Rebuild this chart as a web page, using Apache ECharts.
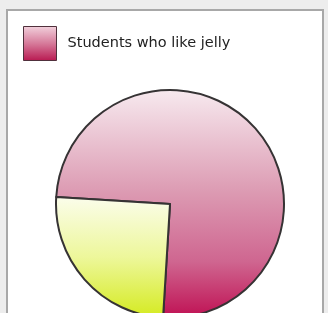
<!DOCTYPE html>
<html><head><meta charset="utf-8">
<script src="https://cdn.jsdelivr.net/npm/echarts@6/dist/echarts.min.js"></script>
<style>html,body{margin:0;padding:0;background:#ededed;}#c{width:328px;height:313px;}</style>
</head><body><div id="c"></div>
<script>
var categories = ['Students who like jelly', "Students who don't like jelly"];
var values = [75, 25];
var legendNames = ['Students who like jelly'];

var pinkGrad = new echarts.graphic.LinearGradient(0, 0, 0, 1, [
  {offset: 0, color: '#f7eaef'},
  {offset: 0.45, color: '#dc9ab2'},
  {offset: 0.75, color: '#cf6690'},
  {offset: 1, color: '#bf0f52'}
]);
var yellowGrad = new echarts.graphic.LinearGradient(0, 0, 0, 1, [
  {offset: 0, color: '#fbfdec'},
  {offset: 0.5, color: '#edf79a'},
  {offset: 1, color: '#d4ea1e'}
]);
var swatchGrad = new echarts.graphic.LinearGradient(0, 0, 0, 1, [
  {offset: 0, color: '#f2d2dd'},
  {offset: 0.5, color: '#d67a9a'},
  {offset: 1, color: '#b81850'}
]);
var colors = [pinkGrad, yellowGrad];

var chart = echarts.init(document.getElementById('c'), null, {renderer: 'canvas'});
chart.setOption({
  backgroundColor: '#ededed',
  animation: false,
  graphic: [{
    type: 'rect', z: -1,
    shape: {x: 7, y: 10, width: 316, height: 310},
    style: {fill: '#ffffff', stroke: '#a8a8a8', lineWidth: 2}
  }],
  legend: {
    data: legendNames.map(function (n) { return {name: n, itemStyle: {color: swatchGrad}}; }),
    left: 23, top: 26, padding: 0,
    itemWidth: 33, itemHeight: 34,
    icon: 'rect',
    itemStyle: {borderColor: '#50303c', borderWidth: 1},
    textStyle: {fontFamily: 'DejaVu Sans', fontSize: 14.5, color: '#222', padding: [0, 0, 0, 6]},
    selectedMode: false
  },
  series: [{
    type: 'pie',
    center: [170, 204],
    radius: 114,
    startAngle: 176.5,
    clockwise: true,
    label: {show: false},
    labelLine: {show: false},
    silent: true,
    itemStyle: {borderColor: '#363334', borderWidth: 2},
    data: categories.map(function (c, i) {
      return {name: c, value: values[i], itemStyle: {color: colors[i]}};
    })
  }]
});
</script></body></html>
